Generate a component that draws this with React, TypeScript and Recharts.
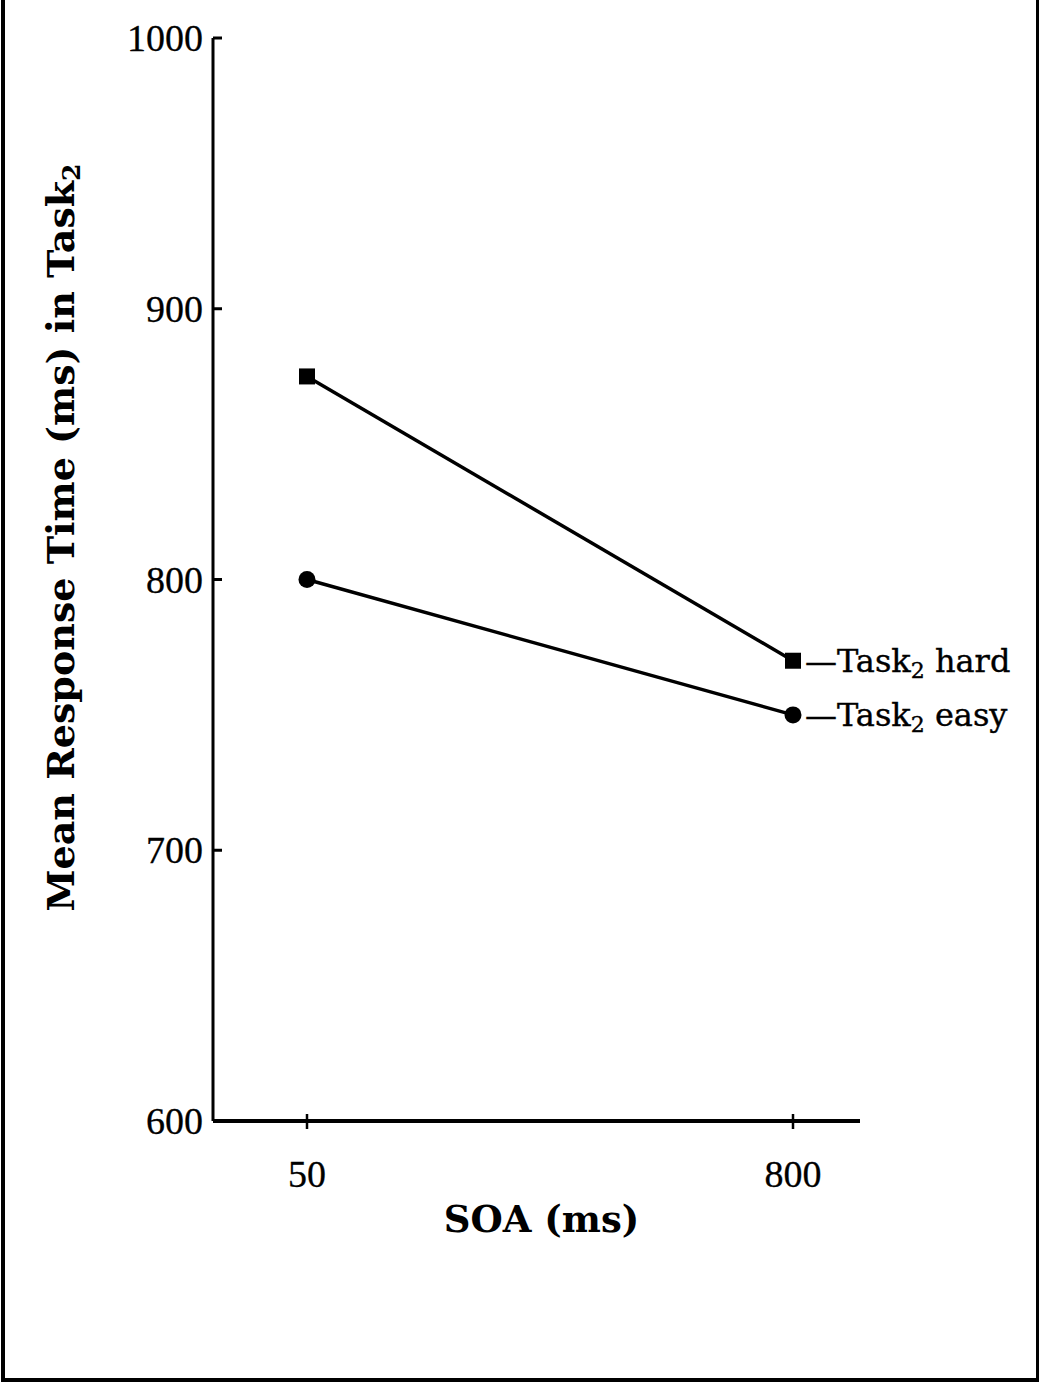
import React from "react";
import { LineChart, Line, XAxis, YAxis, LabelList } from "recharts";

const SOA_LEVELS = ["50", "800"];
const HARD_RT = [875, 770];
const EASY_RT = [800, 750];
const Y_TICKS = [600, 700, 800, 900, 1000];

const data = SOA_LEVELS.map((soa, i) => ({ soa, hard: HARD_RT[i], easy: EASY_RT[i] }));

const DIGIT_FONT = "'Liberation Serif', 'Times New Roman', serif";
const TEXT_FONT = "'DejaVu Serif', serif";

function YTick({ x, y, payload }: any) {
  return (
    <g>
      <line x1={x + 10} y1={y} x2={x + 19} y2={y} stroke="#000" strokeWidth={3} />
      <text x={x} y={y} dy={13} textAnchor="end" fontFamily={DIGIT_FONT} fontSize={38} fill="#000" stroke="#000" strokeWidth={0.3}>
        {payload.value}
      </text>
    </g>
  );
}

function XTick({ x, y, payload }: any) {
  return (
    <g>
      <line x1={x} y1={y - 7} x2={x} y2={y + 8} stroke="#000" strokeWidth={2.5} />
      <text x={x} y={y + 66} textAnchor="middle" fontFamily={DIGIT_FONT} fontSize={38} fill="#000" stroke="#000" strokeWidth={0.3}>
        {payload.value}
      </text>
    </g>
  );
}

function YTitle({ viewBox }: any) {
  const cx = 64;
  const cy = viewBox.y + viewBox.height / 2 - 42;
  return (
    <text
      x={cx}
      y={cy}
      transform={`rotate(-90 ${cx} ${cy})`}
      textAnchor="middle"
      dominantBaseline="middle"
      fontFamily={TEXT_FONT}
      fontWeight="bold"
      fontSize={38}
      fill="#000"
    >
      Mean Response Time (ms) in Task
      <tspan fontSize={25} dy={9}>2</tspan>
    </text>
  );
}

function XTitle({ viewBox }: any) {
  const cx = viewBox.x + viewBox.width / 2 + 5;
  return (
    <text x={cx} y={viewBox.y + 111} textAnchor="middle" fontFamily={TEXT_FONT} fontWeight="bold" fontSize={37} fill="#000">
      SOA (ms)
    </text>
  );
}

function SquareDot({ cx, cy }: any) {
  return <rect x={cx - 8} y={cy - 8} width={16} height={16} fill="#000" />;
}

function CircleDot({ cx, cy }: any) {
  return <circle cx={cx} cy={cy} r={8.5} fill="#000" />;
}

function endLabel(name: string) {
  return (props: any) => {
    const { x, y, index } = props;
    if (index !== SOA_LEVELS.length - 1) return null;
    return (
      <text x={x + 12} y={y + 11} fontFamily={TEXT_FONT} fontSize={32} fill="#000" stroke="#000" strokeWidth={0.4}>
        —Task
        <tspan fontSize={22} dy={6}>2</tspan>
        <tspan dy={-6}> {name}</tspan>
      </text>
    );
  };
}

export default function App() {
  return (
    <div style={{ position: "absolute", left: 0, top: 0, width: 1040, height: 1383, background: "#fff" }}>
      <div
        style={{
          position: "absolute",
          left: 1,
          top: 0,
          width: 1031,
          height: 1378,
          borderLeft: "4px solid #000",
          borderRight: "3px solid #000",
          borderBottom: "4px solid #000",
        }}
      />
      <LineChart width={1040} height={1383} data={data} margin={{ top: 38, right: 180, bottom: 0, left: 0 }}>
        <XAxis
          dataKey="soa"
          type="category"
          height={262}
          padding={{ left: 94, right: 67 }}
          axisLine={{ stroke: "#000", strokeWidth: 4 }}
          tickLine={false}
          tickSize={0}
          tickMargin={0}
          tick={<XTick />}
          label={<XTitle />}
        />
        <YAxis
          type="number"
          domain={[600, 1000]}
          ticks={Y_TICKS}
          width={213}
          axisLine={{ stroke: "#000", strokeWidth: 3 }}
          tickLine={false}
          tickSize={0}
          tickMargin={10}
          tick={<YTick />}
          interval={0}
          label={<YTitle />}
        />
        <Line dataKey="hard" stroke="#000" strokeWidth={3.5} dot={<SquareDot />} activeDot={false} isAnimationActive={false}>
          <LabelList dataKey="hard" content={endLabel("hard")} />
        </Line>
        <Line dataKey="easy" stroke="#000" strokeWidth={3.5} dot={<CircleDot />} activeDot={false} isAnimationActive={false}>
          <LabelList dataKey="easy" content={endLabel("easy")} />
        </Line>
      </LineChart>
    </div>
  );
}
